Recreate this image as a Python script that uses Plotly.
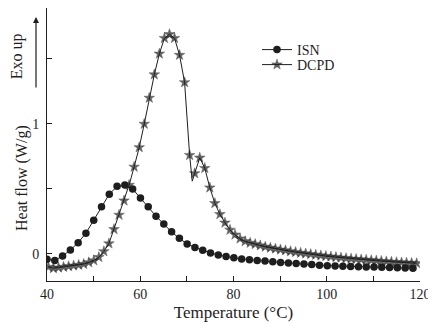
import plotly.graph_objects as go

# ISN (circles)
isn_T = [40.00, 41.67, 43.34, 45.01, 46.68, 48.35, 50.02, 51.69, 53.36, 55.03,
         56.70, 58.37, 60.04, 61.71, 63.38, 65.05, 66.72, 68.39, 70.06, 71.73,
         73.40, 75.07, 76.74, 78.41, 80.08, 81.75, 83.42, 85.09, 86.76, 88.43,
         90.10, 91.77, 93.44, 95.11, 96.78, 98.45, 100.12, 101.79, 103.46, 105.13,
         106.80, 108.47, 110.14, 111.81, 113.48, 115.15, 116.82, 118.49]
isn_v = [-0.04, -0.05, -0.015, 0.03, 0.087, 0.16, 0.26, 0.364, 0.46, 0.52,
         0.53, 0.50, 0.43, 0.364, 0.29, 0.23, 0.17, 0.12, 0.077, 0.05,
         0.028, 0.008, -0.008, -0.02, -0.03, -0.038, -0.045, -0.05, -0.055, -0.06,
         -0.065, -0.07, -0.074, -0.078, -0.082, -0.086, -0.09, -0.092, -0.094, -0.096,
         -0.098, -0.10, -0.101, -0.103, -0.105, -0.106, -0.108, -0.11]

# DCPD (stars)
dcpd_T = [40.30, 41.38, 42.46, 43.55, 44.63, 45.71, 46.79, 47.87, 48.96, 50.04,
          51.12, 52.20, 53.28, 54.37, 55.45, 56.53, 57.61, 58.69, 59.78, 60.86,
          61.94, 63.02, 64.10, 65.19, 66.27, 67.35, 68.43, 69.51, 70.59, 71.68,
          72.76, 73.84, 74.92, 76.00, 77.09, 78.17, 79.25, 80.33, 81.41, 82.50,
          83.58, 84.66, 85.74, 86.82, 87.91, 88.99, 90.07, 91.15, 92.23, 93.32,
          94.40, 95.48, 96.56, 97.64, 98.73, 99.81, 100.89, 101.97, 103.05, 104.14,
          105.22, 106.30, 107.38, 108.46, 109.55, 110.63, 111.71, 112.79, 113.87, 114.96,
          116.04, 117.12, 118.20, 119.28]
dcpd_v = [-0.10, -0.11, -0.105, -0.10, -0.095, -0.09, -0.085, -0.078, -0.065, -0.05,
          -0.025, 0.02, 0.08, 0.19, 0.30, 0.41, 0.53, 0.67, 0.82, 1.00,
          1.20, 1.38, 1.54, 1.66, 1.69, 1.66, 1.53, 1.32, 0.76, 0.62,
          0.74, 0.66, 0.51, 0.39, 0.305, 0.24, 0.185, 0.148, 0.118, 0.097,
          0.085, 0.075, 0.065, 0.055, 0.047, 0.04, 0.033, 0.027, 0.02, 0.014,
          0.008, 0.003, -0.002, -0.007, -0.012, -0.017, -0.021, -0.025, -0.029, -0.033,
          -0.037, -0.04, -0.043, -0.046, -0.049, -0.052, -0.055, -0.058, -0.061, -0.064,
          -0.066, -0.068, -0.07, -0.072]
# sharp dip between markers (line vertex without a marker)
dip_T = [71.15]
dip_v = [0.56]

x_ticks = [40, 60, 80, 100, 120]
y_ticks = [0, 1]

ink = "#1e1e1e"
font_family = "Liberation Serif"

# DCPD line including the dip vertex; marker hidden at the dip
pts = sorted([(t, v, 8) for t, v in zip(dcpd_T, dcpd_v)] +
             [(t, v, 0) for t, v in zip(dip_T, dip_v)])
line_T = [p[0] for p in pts]
line_v = [p[1] for p in pts]
line_sz = [p[2] for p in pts]

fig = go.Figure()
fig.add_trace(go.Scatter(x=isn_T, y=isn_v, mode="lines+markers", name="ISN",
                         line=dict(color=ink, width=1),
                         marker=dict(symbol="circle", size=7.5, color=ink),
                         legend="legend"))
fig.add_trace(go.Scatter(x=line_T, y=line_v, mode="lines+markers", name="DCPD",
                         line=dict(color=ink, width=1),
                         marker=dict(symbol="star", size=line_sz, color=ink,
                                     line=dict(width=0.5, color=ink)),
                         legend="legend2"))

leg_common = dict(xanchor="left", yanchor="middle", bgcolor="rgba(0,0,0,0)",
                  font=dict(size=14, family=font_family, color=ink),
                  itemwidth=30, borderwidth=0)

# page body has an 8px margin, so the figure is laid out 8px in from the top-left
PH = 273  # plot-area height in px
fig.update_layout(
    width=428, height=320,
    margin=dict(l=39, r=16, t=0, b=47),
    paper_bgcolor="white", plot_bgcolor="white",
    font=dict(family=font_family, color=ink, size=14),
    showlegend=True,
    legend=dict(x=0.563, y=(281 - 50) / PH, **leg_common),
    legend2=dict(x=0.563, y=(281 - 65) / PH, **leg_common),
    xaxis=dict(range=[40, 120], tickvals=x_ticks, ticks="inside", ticklen=5,
               showline=True, linecolor=ink, linewidth=1, tickcolor=ink,
               showgrid=False, zeroline=False, automargin=False,
               minor=dict(dtick=10, ticks="inside", ticklen=5, tickcolor=ink),
               tickfont=dict(size=14),
               title=dict(text="Temperature (°C)", font=dict(size=17), standoff=5)),
    yaxis=dict(range=[-0.208, 1.892], tickvals=y_ticks, ticks="inside", ticklen=5,
               showline=True, linecolor=ink, linewidth=1, tickcolor=ink,
               showgrid=False, zeroline=False, automargin=False,
               ticklabelstandoff=4,
               minor=dict(tickvals=[0.5, 1.5], ticks="inside", ticklen=5, tickcolor=ink),
               tickfont=dict(size=14)),
)

fig.add_annotation(text="Heat flow (W/g)", xref="paper", yref="paper",
                   x=-0.067, y=(281 - 178) / PH, textangle=-90, showarrow=False,
                   font=dict(size=16), xanchor="center", yanchor="middle")
fig.add_annotation(text="Exo up", xref="paper", yref="paper",
                   x=-0.08, y=(281 - 56) / PH, textangle=-90, showarrow=False,
                   font=dict(size=16), xanchor="center", yanchor="middle")
fig.add_annotation(text="", xref="paper", yref="paper",
                   x=-0.0295, y=(281 - 17) / PH, ax=0, ay=72, axref="pixel", ayref="pixel",
                   showarrow=True, arrowhead=2, arrowsize=1, arrowwidth=1.2,
                   arrowcolor=ink)

fig.write_html("out.html")
